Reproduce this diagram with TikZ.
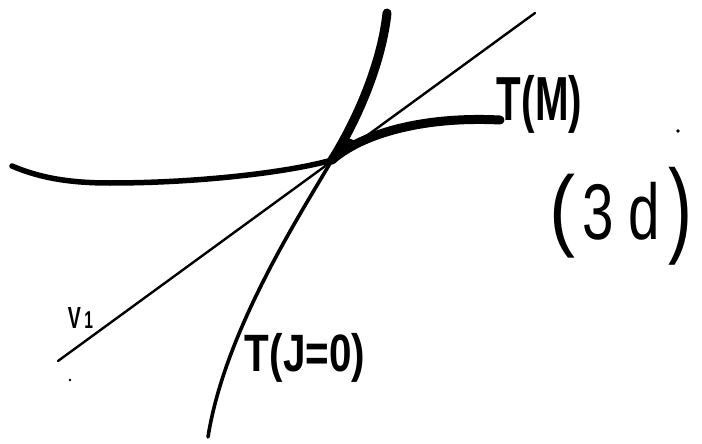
\documentclass[tikz,border=0pt]{standalone}
\usepackage{fontspec}
\setmainfont{Liberation Sans}
\begin{document}
\begin{tikzpicture}[x=1pt,y=-1pt,
  thickcurve/.style={line width=9pt, line cap=round},
  midcurve/.style={line width=5.5pt, line cap=round},
  thincurve/.style={line width=3.6pt, line cap=round},
  hairline/.style={line width=2.4pt, line cap=round},
  lbl/.style={inner sep=0pt, outer sep=0pt}]
\useasboundingbox[fill=white] (0,0) rectangle (702,444);
% key points
\coordinate (P) at (332,160);
\coordinate (Lstart) at (12,166);
\coordinate (Lmin) at (110,183);
\coordinate (Rend) at (500,120);
\coordinate (Stop) at (387,13);
\coordinate (Sbot) at (208,437);
\coordinate (Va) at (58,361);
\coordinate (Vb) at (535,13);
% V1 straight line
\draw[hairline] (Va) -- (Vb);
% T(M) curve: left thinner part
\draw[midcurve] (Lstart) .. controls (40,178) and (70,183) .. (Lmin)
  .. controls (200,183) and (290,172) .. (P);
% T(M) curve: right thick part
\draw[thickcurve] (P) .. controls (360,135) and (420,116) .. (Rend);
% steep curve: upper thick part
\draw[thickcurve] (P) .. controls (360,115) and (382,60) .. (Stop);
% steep curve: lower thin part T(J=0)
\draw[thincurve] (P) .. controls (300,215) and (225,330) .. (Sbot);
% junction blob
\fill (322,168) -- (348,138) -- (364,144) -- cycle;
% labels
\node[lbl] (tm) at (539.5,104) {\resizebox*{85pt}{58pt}{\bfseries T(M)}};
\node[lbl] (lp) at (562,216) {\resizebox*{26pt}{84pt}{(}};
\node[lbl] (td) at (621.5,211) {\resizebox*{77pt}{58pt}{3\hspace{0.25em}d}};
\node[lbl] (rp) at (680,216) {\resizebox*{24pt}{98pt}{)}};
\node[lbl] (v1) at (80.5,317.5) {\resizebox*{25pt}{21pt}{\bfseries V\,{\footnotesize 1}}};
\node[lbl] (tj) at (305,357.5) {\resizebox*{120pt}{49pt}{\bfseries T(J=0)}};
% stray dots
\fill (678,131) circle (1.8pt);
\fill (70,380) circle (1.3pt);
\end{tikzpicture}
\end{document}
